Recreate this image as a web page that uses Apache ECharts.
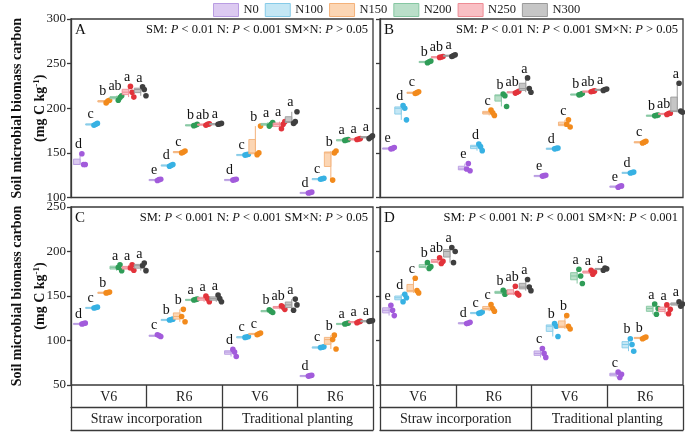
<!DOCTYPE html>
<html><head><meta charset="utf-8">
<script src="https://cdn.jsdelivr.net/npm/echarts@6/dist/echarts.min.js"></script>
<style>html,body{margin:0;padding:0;background:#fff}#c{width:685px;height:433px}</style>
</head><body><div id="c"></div>
<script>
// ---------- data ----------
const levels = ['N0','N100','N150','N200','N250','N300'];
const stages = ['V6','R6','V6','R6'];
const practices = ['Straw incorporation','Traditional planting'];
const panelTags = ['A','B','C','D'];
const statTexts = [
  'SM: {i|P} < 0.01 N: {i|P} < 0.001 SM×N: {i|P} > 0.05',
  'SM: {i|P} < 0.01 N: {i|P} < 0.001 SM×N: {i|P} > 0.05',
  'SM: {i|P} < 0.001 N: {i|P} < 0.001 SM×N: {i|P} > 0.05',
  'SM: {i|P} < 0.001 N: {i|P} < 0.001 SM×N: {i|P} < 0.001'
];
// replicate values (3 per treatment); order: V6-Straw N0..N300, R6-Straw, V6-Trad, R6-Trad
const valuesA = [
  [149,137,137],[181,182,183],[206,208,209],[209,212,214],[224.5,218,212.5],[224,221,214],
  [119,120,120.5],[135,136,137],[150,151,152],[180.5,181,182],[181,182,182.5],[182,182.5,183],
  [119.5,120,120.5],[147.5,148,148.5],[148,150,180],[180,182,184],[177,182,185],[183,185,196],
  [105,105.5,106],[120.5,121,121.5],[119.5,150,152],[164,164.5,165],[165,165.5,166],[166,167.5,169]
];
const valuesB = [
  [154.5,155,156],[203,200,187],[216.5,217.5,218.5],[251,252,253],[257,257.5,258],[258,259,260],
  [132,138,130],[160,157,152.5],[198,195,192],[216,214,202],[217,218,219],[234,222,218],
  [124,124.5,125],[154.5,155,155.5],[182,187,179],[215,215.5,216.5],[218.5,219,219.5],[220,221,221.5],
  [111.5,112.5,113],[127.5,128,128.5],[161,162,163],[191.5,192,192.5],[193,194,194.5],[228,197,195.5]
];
const valuesC = [
  [118.5,119,119.5],[136.5,137,137.5],[153.5,154,154.5],[182,185,178.5],[181.5,185,179],[184,187,178.5],
  [106.5,105.5,104.5],[123,123.5,124],[127,135,121],[145.5,146,146.5],[150,147,143.5],[151,147,143.5],
  [90,87,82],[103.5,104,104.5],[106.5,107.5,108.5],[134.5,133,131.5],[139,137.5,135],[134,146.5,140],
  [60,60.5,61],[92,92.5,93],[101,106,90.5],[118.5,119,119.5],[120,121,121.5],[121.5,122,122.5]
];
const valuesD = [
  [139.5,134,128],[143.5,152,148],[170,156,153.5],[187.5,181,183],[193,186.5,189],[204.5,187.5,200],
  [119,119.5,120.5],[130.5,131,132],[140.5,136,133],[156.5,152,154],[161,153,151],[168.5,160,156],
  [91,85.5,81],[119,116,104.5],[128,116,113],[180,172.5,164],[179,174.5,177],[179,181.5,180.5],
  [64.5,58.5,62],[102,95.5,88],[102,103,104],[141,129.5,136],[140,130,135],[143.5,138.5,141]
];
const lettersA = ['d','c','b','ab','a','a','e','d','c','b','ab','a','d','c','b','a','a','a','d','c','b','a','a','a'];
const lettersB = ['e','d','c','b','ab','a','e','d','c','b','ab','a','e','d','c','b','ab','a','e','d','c','b','ab','a'];
const lettersC = ['d','c','b','a','a','a','c','b','b','a','a','a','d','c','c','b','ab','a','d','c','b','a','a','a'];
const lettersD = ['e','d','c','b','ab','a','d','c','c','b','ab','a','c','b','b','a','a','a','c','b','b','a','a','a'];
const yRangeTop = [100, 300];
const yRangeBottom = [50, 250];
const yStep = 50;

// ---------- styles ----------
const SERIF = '"Liberation Serif","Times New Roman",serif';
const pal = [
  {fill:'#dccaf1', edge:'#b99de2', dot:'#a25bdb'},
  {fill:'#c4e7f5', edge:'#86cbe8', dot:'#37b1e3'},
  {fill:'#fcd6b4', edge:'#f4b27a', dot:'#f28a1c'},
  {fill:'#badfc9', edge:'#86c7a2', dot:'#2f9c57'},
  {fill:'#f9bfc4', edge:'#ee8c95', dot:'#e2333b'},
  {fill:'#c6c6c6', edge:'#9a9a9a', dot:'#3f3f3f'}
];
const AX = '#3a3a3a';

const grids = [
  {left:71, top:19, width:302, height:178.5},
  {left:380, top:19, width:303, height:178.5},
  {left:71, top:207, width:302, height:178},
  {left:380, top:207, width:303, height:178}
].map(g => Object.assign(g, {show:true, borderColor:AX, borderWidth:1.3, backgroundColor:'transparent'}));

const xAxes = [0,1,2,3].map(i => ({
  type:'value', gridIndex:i, min:0, max:24,
  axisLine:{show:false}, axisTick:{show:false}, axisLabel:{show:false}, splitLine:{show:false}
}));
[2,3].forEach(gi => {
  xAxes.push({
    type:'category', gridIndex:gi, position:'bottom', data:stages,
    axisLine:{show:false},
    axisTick:{show:true, length:22, interval:0, lineStyle:{color:AX, width:1.3}},
    axisLabel:{interval:0, margin:5, fontSize:14, fontFamily:SERIF, color:'#222'},
    splitLine:{show:false}
  });
  xAxes.push({
    type:'category', gridIndex:gi, position:'bottom', offset:22, data:practices,
    axisLine:{show:true, lineStyle:{color:AX, width:1.3}},
    axisTick:{show:true, length:23, interval:0, lineStyle:{color:AX, width:1.3}},
    axisLabel:{interval:0, margin:5, fontSize:14, fontFamily:SERIF, color:'#222'},
    splitLine:{show:false}
  });
  xAxes.push({
    type:'category', gridIndex:gi, position:'bottom', offset:45, data:practices,
    axisLine:{show:true, lineStyle:{color:AX, width:1.3}},
    axisTick:{show:false}, axisLabel:{show:false}, splitLine:{show:false}
  });
});

const yName = '{t|Soil microbial biomass carbon}\n{t|(mg C kg}{s|-1}{t|)}';
const yAxes = [0,1,2,3].map(i => {
  const r = i < 2 ? yRangeTop : yRangeBottom;
  const left = (i % 2 === 0);
  return {
    type:'value', gridIndex:i, min:r[0], max:r[1], interval:yStep,
    axisLine:{show:true, lineStyle:{color:AX, width:1.3}},
    axisTick:{show:true, length:4, lineStyle:{color:AX, width:1.3}},
    axisLabel:{show:left, margin:5, fontSize:13, fontFamily:SERIF, color:'#222'},
    splitLine:{show:false},
    name: left ? yName : '',
    nameLocation:'middle', nameRotate:90, nameGap:19, nameMoveOverlap:false,
    nameTextStyle:{rich:{
      t:{fontFamily:SERIF, fontWeight:'bold', fontSize:14, color:'#111', lineHeight:23},
      s:{fontFamily:SERIF, fontWeight:'bold', fontSize:9, color:'#111', padding:[0,0,8,0]}
    }}
  };
});

const panelValues = [valuesA, valuesB, valuesC, valuesD];
const panelLetters = [lettersA, lettersB, lettersC, lettersD];

function makeRender(letters, k) {
  const c = pal[k];
  return function (params, api) {
    const g = api.value(0);
    const vals = [api.value(2), api.value(3), api.value(4)];
    const s = vals.slice().sort((a,b)=>a-b);
    const q1 = (s[0]+s[1])/2, q3 = (s[1]+s[2])/2;
    const xv = g*6 + 0.72 + 0.965*k;
    const pT = api.coord([xv, q3]), pB = api.coord([xv, q1]), pM = api.coord([xv, s[1]]);
    const pMax = api.coord([xv, s[2]]), pMin = api.coord([xv, s[0]]);
    const cx = pT[0];
    const bw = 6.5;
    const ch = [];
    ch.push({type:'line', shape:{x1:cx, y1:pMax[1], x2:cx, y2:pMin[1]}, style:{stroke:c.edge, lineWidth:1}});
    ch.push({type:'rect', shape:{x:cx-bw, y:pT[1], width:bw, height:Math.max(1.2, pB[1]-pT[1])},
             style:{fill:c.fill, stroke:c.edge, lineWidth:0.9}});
    ch.push({type:'line', shape:{x1:cx-bw, y1:pM[1], x2:cx, y2:pM[1]}, style:{stroke:c.edge, lineWidth:1}});
    vals.forEach((v,i) => {
      const p = api.coord([xv, v]);
      ch.push({type:'circle', shape:{cx:cx+1.8+1.7*i, cy:p[1], r:2.8}, style:{fill:c.dot}});
    });
    ch.push({type:'text', style:{text:letters[g*6+k], x:cx-1.5, y:pMax[1]-2,
      font:'14px ' + SERIF, fill:'#111', textAlign:'center', textVerticalAlign:'bottom',
      align:'center', verticalAlign:'bottom'}});
    return {type:'group', children:ch};
  };
}

const series = [];
panelValues.forEach((vals, p) => {
  levels.forEach((lv, k) => {
    const data = [0,1,2,3].map(g => {
      const t = vals[g*6+k];
      return [g, k, t[0], t[1], t[2]];
    });
    series.push({
      type:'custom', name:lv, xAxisIndex:p, yAxisIndex:p,
      itemStyle:{color:pal[k].fill, borderColor:pal[k].edge},
      encode:{x:0, y:[2,3,4]},
      renderItem:makeRender(panelLetters[p], k),
      data, z:3+k
    });
  });
});

const graphics = [];
grids.forEach((g, i) => {
  const cy = g.top + 11.5;
  graphics.push({type:'text', left:g.left+4, top:cy-8,
    style:{text:panelTags[i], font:'15px ' + SERIF, fill:'#111'}});
  graphics.push({type:'text', right:685-(g.left+g.width)+5, top:cy-7.5,
    style:{text:statTexts[i], font:'12.5px ' + SERIF, fill:'#111',
      rich:{i:{fontStyle:'italic', fontFamily:SERIF, fontSize:12.5, fill:'#111'}}}});
});

const option = {
  animation:false,
  backgroundColor:'#fff',
  grid:grids, xAxis:xAxes, yAxis:yAxes, series,
  legend:{
    left:213, top:3, padding:0, itemWidth:25, itemHeight:13, itemGap:6, selectedMode:false,
    icon:'rect',
    textStyle:{fontFamily:SERIF, fontSize:12.5, color:'#222'},
    data: levels.map((lv,k)=>({name:lv, itemStyle:{color:pal[k].fill, borderColor:pal[k].edge, borderWidth:1}}))
  },
  graphic:graphics
};
const chart = echarts.init(document.getElementById('c'), null, {renderer:'canvas'});
chart.setOption(option);
</script></body></html>
